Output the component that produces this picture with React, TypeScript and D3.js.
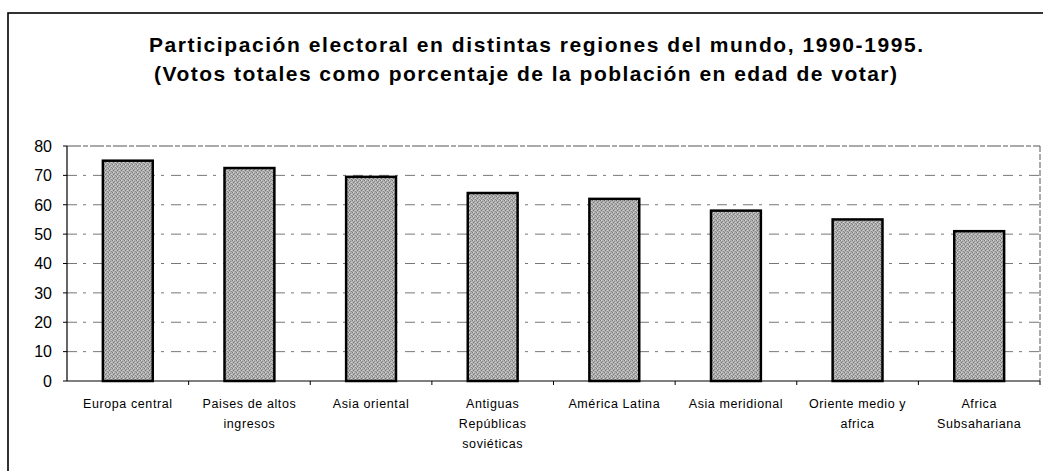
import React from "react";
import * as d3 from "d3";

const categories: string[][] = [
  ["Europa central"],
  ["Paises de altos", "ingresos"],
  ["Asia oriental"],
  ["Antiguas", "Repúblicas", "soviéticas"],
  ["América Latina"],
  ["Asia meridional"],
  ["Oriente medio y", "africa"],
  ["Africa", "Subsahariana"],
];
const values: number[] = [75, 72.5, 69.5, 64, 62, 58, 55, 51];
const yTicks: number[] = [0, 10, 20, 30, 40, 50, 60, 70, 80];
const titleLines: string[] = [
  "Participación electoral en distintas regiones del mundo, 1990-1995.",
  "(Votos totales como porcentaje de la población en edad de votar)",
];

const W = 1043;
const H = 471;
const plot = { left: 67, right: 1040, top: 146, bottom: 381 };
const font = "Arial, 'Liberation Sans', sans-serif";

export default function App() {
  const keys = categories.map((_, i) => String(i));
  const x = d3
    .scaleBand<string>()
    .domain(keys)
    .range([plot.left, plot.right])
    .paddingInner(0.59)
    .paddingOuter(0.295);
  const slot = d3.scaleBand<string>().domain(keys).range([plot.left, plot.right]);
  const y = d3.scaleLinear().domain([0, 80]).range([plot.bottom, plot.top]);

  const titleX = [149, 154];
  const titleLen = [774, 743];
  const titleY = [52, 81];

  return (
    <svg
      width={W}
      height={H}
      style={{ position: "absolute", left: 0, top: 0, background: "#fff" }}
    >
      <defs>
        <pattern id="stip" width="4" height="4" patternUnits="userSpaceOnUse">
          <rect width="4" height="4" fill="#b0b0b0" />
          <rect x="0" y="0" width="1" height="1" fill="#777" />
          <rect x="2" y="1" width="1" height="1" fill="#888" />
          <rect x="1" y="2" width="1" height="1" fill="#777" />
          <rect x="3" y="3" width="1" height="1" fill="#888" />
          <rect x="1" y="0" width="1" height="1" fill="#d4d4d4" />
          <rect x="3" y="2" width="1" height="1" fill="#d4d4d4" />
        </pattern>
      </defs>

      {/* outer frame */}
      <rect x={8} y={13} width={1040} height={470} fill="none" stroke="#000" strokeWidth={1.6} />

      {/* title */}
      {titleLines.map((t, i) => (
        <text
          key={i}
          x={titleX[i]}
          y={titleY[i]}
          fontFamily={font}
          fontWeight="bold"
          fontSize={21}
          textLength={titleLen[i]}
          lengthAdjust="spacing"
          fill="#000"
        >
          {t}
        </text>
      ))}

      {/* gridlines */}
      {yTicks
        .filter((v) => v > 0 && v < 80)
        .map((v) => (
          <line
            key={v}
            x1={plot.left}
            x2={plot.right}
            y1={y(v)}
            y2={y(v)}
            stroke="#777"
            strokeWidth={1}
            strokeDasharray="10 6 3 7"
          />
        ))}
      {/* top border and right border */}
      <line x1={plot.left} x2={plot.right} y1={y(80)} y2={y(80)} stroke="#555" strokeWidth={1} strokeDasharray="14 2 5 2" />
      <line x1={plot.right} x2={plot.right} y1={y(80)} y2={y(0)} stroke="#555" strokeWidth={1} strokeDasharray="6 2" />

      {/* bars */}
      {values.map((v, i) => (
        <rect
          key={i}
          x={x(String(i))}
          y={y(v)}
          width={x.bandwidth()}
          height={y(0) - y(v)}
          fill="url(#stip)"
          stroke="#000"
          strokeWidth={2.5}
        />
      ))}

      {/* axes */}
      <line x1={plot.left} x2={plot.left} y1={y(80)} y2={y(0)} stroke="#000" strokeWidth={1.2} />
      <line x1={plot.left} x2={plot.right} y1={y(0)} y2={y(0)} stroke="#000" strokeWidth={1.2} />
      {yTicks.map((v) => (
        <g key={v}>
          <line x1={plot.left - 4} x2={plot.left} y1={y(v)} y2={y(v)} stroke="#000" strokeWidth={1} />
          <text
            x={52}
            y={y(v)}
            dy="0.36em"
            textAnchor="end"
            fontFamily={font}
            fontSize={16}
            fill="#000"
          >
            {v}
          </text>
        </g>
      ))}
      {keys.map((k) => (
        <line
          key={k}
          x1={(slot(k) as number) + slot.bandwidth()}
          x2={(slot(k) as number) + slot.bandwidth()}
          y1={y(0)}
          y2={y(0) + 4}
          stroke="#000"
          strokeWidth={1}
        />
      ))}

      {/* category labels */}
      {categories.map((lines, i) => (
        <text
          key={i}
          textAnchor="middle"
          fontFamily={font}
          fontSize={12.5}
          letterSpacing={0.6}
          fill="#000"
        >
          {lines.map((l, j) => (
            <tspan key={j} x={(slot(String(i)) as number) + slot.bandwidth() / 2} y={408 + j * 20}>
              {l}
            </tspan>
          ))}
        </text>
      ))}
    </svg>
  );
}
